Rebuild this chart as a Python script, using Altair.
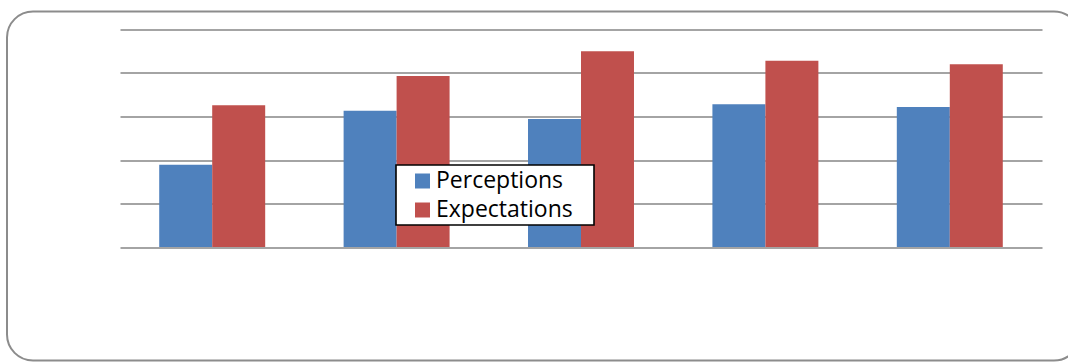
import altair as alt
import pandas as pd

groups = ["1", "2", "3", "4", "5"]
perceptions = [1.89, 3.13, 2.94, 3.28, 3.22]
expectations = [3.26, 3.93, 4.50, 4.28, 4.20]
series = ["Perceptions", "Expectations"]
colors = ["#4F81BD", "#C0504D"]

rows = []
for g, p, e in zip(groups, perceptions, expectations):
    rows.append({"group": g, "series": series[0], "value": p})
    rows.append({"group": g, "series": series[1], "value": e})
df = pd.DataFrame(rows)

W, H = 922, 217.5
one = pd.DataFrame({"k": [0]})

# rounded frame around the whole chart
frame = alt.Chart(one).mark_rect(
    fill=None, stroke="#8c8c8c", strokeWidth=2, cornerRadius=26, clip=False
).encode(
    x=alt.value(-113), x2=alt.value(960),
    y=alt.value(-18), y2=alt.value(331),
)

bars = alt.Chart(df).mark_bar(clip=False).encode(
    x=alt.X("group:N", sort=groups, title=None,
            scale=alt.Scale(paddingInner=0, paddingOuter=0),
            axis=alt.Axis(labels=False, ticks=False, domain=False, grid=False)),
    xOffset=alt.XOffset("series:N", sort=series,
                        scale=alt.Scale(paddingInner=0, paddingOuter=0.74)),
    y=alt.Y("value:Q", title=None,
            scale=alt.Scale(domain=[0, 5], nice=False),
            axis=alt.Axis(values=[0, 1, 2, 3, 4, 5], labels=False, ticks=False,
                          domain=False, grid=True, gridColor="#868686",
                          gridWidth=1.6, gridOpacity=1)),
    color=alt.Color("series:N", sort=series,
                    scale=alt.Scale(domain=series, range=colors),
                    legend=alt.Legend(
                        title=None, orient="none", legendX=291, legendY=140,
                        strokeColor="transparent", fillColor="transparent",
                        padding=0, symbolType="square", symbolSize=225,
                        symbolStrokeWidth=0,
                        labelFontSize=23, labelFont="Open Sans",
                        labelColor="black", rowPadding=5, labelOffset=2,
                    )),
)

# white box with black border behind the legend entries
legend_box = alt.Chart(one).mark_rect(
    fill="white", stroke="black", strokeWidth=1.6, clip=False
).encode(
    x=alt.value(276), x2=alt.value(474),
    y=alt.value(135.5), y2=alt.value(195.5),
)

chart = alt.layer(frame, bars, legend_box).properties(
    width=W, height=H, background="white",
    padding={"left": 120, "top": 29.5, "right": 26, "bottom": 115},
    autosize=alt.AutoSizeParams(type="none"),
).configure_view(stroke="transparent", strokeWidth=0)

chart.save("out.html", embed_options={"renderer": "svg", "actions": False})
